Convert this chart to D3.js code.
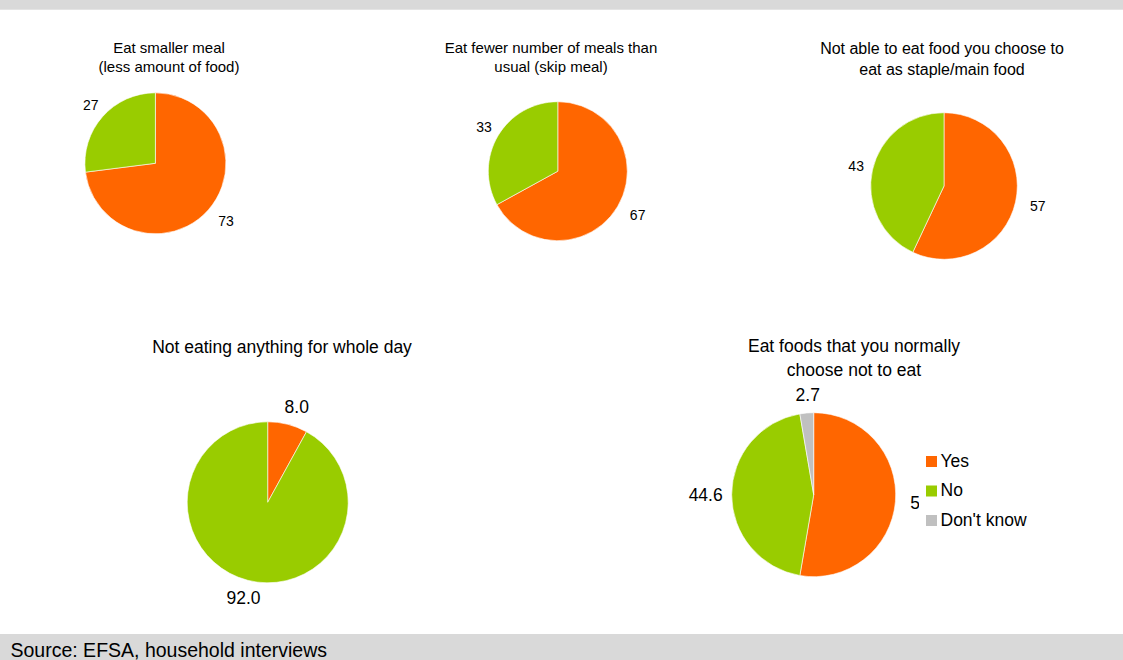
<!DOCTYPE html>
<html>
<head>
<meta charset="utf-8">
<script src="https://cdn.jsdelivr.net/npm/d3@7"></script>
<style>
  html, body { margin: 0; padding: 0; background: #fff; }
  svg { display: block; font-family: "Liberation Sans", Arial, sans-serif; }
</style>
</head>
<body>
<svg id="chart" width="1123" height="660"></svg>
<script>
// Coping strategies: share of households answering Yes / No / Don't know (%)
const categories = ["Yes", "No", "Don't know"];
const titles = [
  ["Eat smaller meal", "(less amount of food)"],
  ["Eat fewer number of meals than", "usual (skip meal)"],
  ["Not able to eat food you choose to", "eat as staple/main food"],
  ["Not eating anything for whole day"],
  ["Eat foods that you normally", "choose not to eat"]
];
const yesValues = [73, 67, 57, 8.0, 52.7];
const noValues = [27, 33, 43, 92.0, 44.6];
const dontKnowValues = [0, 0, 0, 0, 2.7];
const labelDecimals = [0, 0, 0, 1, 1];
const sourceText = "Source: EFSA, household interviews";

const colors = { "Yes": "#FF6600", "No": "#99CC00", "Don't know": "#C0C0C0" };

// Placement of each pie on the page
const layout = [
  { cx: 155.4, cy: 163.3, r: 70.5, tx: 169, ty: 52.5, lh: 19.5, tfs: 15, lfs: 14 },
  { cx: 557.8, cy: 171.2, r: 69.5, tx: 551, ty: 52.5, lh: 19.5, tfs: 15, lfs: 14 },
  { cx: 944,   cy: 186,   r: 73.3, tx: 942, ty: 54,   lh: 20.5, tfs: 16, lfs: 14 },
  { cx: 267.7, cy: 502.3, r: 80.5, tx: 282, ty: 352.5, lh: 23.5, tfs: 17.5, lfs: 17.5 },
  { cx: 813.7, cy: 494.7, r: 82,   tx: 854, ty: 352,  lh: 23.5, tfs: 17.5, lfs: 17.5 }
];

const svg = d3.select("#chart");

// header and footer bands
svg.append("rect").attr("x", 0).attr("y", 0).attr("width", 1123).attr("height", 9.7).attr("fill", "#D9D9D9");
svg.append("rect").attr("x", 0).attr("y", 634).attr("width", 1123).attr("height", 26).attr("fill", "#D9D9D9");
svg.append("text").attr("x", 10.5).attr("y", 656.5).attr("font-size", 19.5).attr("fill", "#000").text(sourceText);

const pie = d3.pie().sort(null).value(d => d.value).startAngle(0).endAngle(2 * Math.PI);

titles.forEach((title, i) => {
  const L = layout[i];
  const rows = categories.map((c, k) => ({
    category: c,
    value: [yesValues, noValues, dontKnowValues][k][i]
  })).filter(d => d.value > 0);

  const g = svg.append("g");

  // title
  const t = g.append("text")
    .attr("text-anchor", "middle")
    .attr("font-size", L.tfs)
    .attr("fill", "#000");
  title.forEach((line, j) => {
    t.append("tspan").attr("x", L.tx).attr("y", L.ty + j * L.lh).text(line);
  });

  const arcs = pie(rows);
  const arc = d3.arc().innerRadius(0).outerRadius(L.r);

  g.append("g").attr("transform", `translate(${L.cx},${L.cy})`)
    .selectAll("path").data(arcs).join("path")
    .attr("d", arc)
    .attr("fill", d => colors[d.data.category])
    .attr("stroke", "#fff")
    .attr("stroke-width", 0.6);

  // outside-end value labels
  const fmt = d3.format("." + labelDecimals[i] + "f");
  const gap = 12;
  arcs.forEach(a => {
    const mid = (a.startAngle + a.endAngle) / 2;
    const s = Math.sin(mid), c = Math.cos(mid);
    const lbl = g.append("text")
      .attr("font-size", L.lfs)
      .attr("text-anchor", "middle")
      .attr("fill", "#000")
      .text(fmt(a.data.value));
    const w = lbl.node().getComputedTextLength();
    const h = L.lfs * 0.716;
    const x = L.cx + (L.r + gap) * s + (w / 2) * s + 3;
    const y = L.cy - (L.r + gap) * c - (h / 2) * c;
    lbl.attr("x", x).attr("y", y + h / 2);
  });
});

// legend (drawn over the chart area with an opaque background)
const legend = svg.append("g");
legend.append("rect").attr("x", 919).attr("y", 445).attr("width", 125).attr("height", 92).attr("fill", "#fff");
const legendY = d3.scalePoint().domain(categories).range([461.5, 520.5]);
categories.forEach(c => {
  const y = legendY(c);
  legend.append("rect").attr("x", 926).attr("y", y - 5.5).attr("width", 11).attr("height", 11).attr("fill", colors[c]);
  legend.append("text").attr("x", 940.5).attr("y", y + 5).attr("font-size", 17.5).attr("fill", "#000").text(c);
});
</script>
</body>
</html>
